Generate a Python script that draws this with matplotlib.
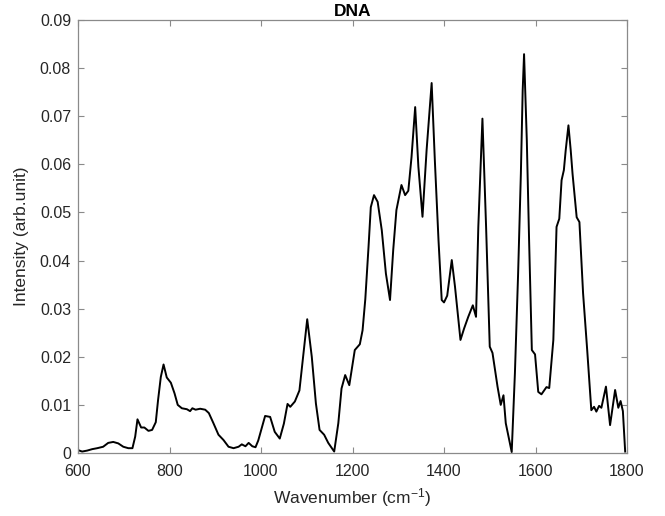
import numpy as np
import matplotlib.pyplot as plt

plt.rcParams['font.family'] = ['Liberation Sans', 'DejaVu Sans']
plt.rcParams['mathtext.default'] = 'regular'

# Raman spectrum of DNA
wavenumber = [600, 609, 620, 631, 642, 655, 666, 677, 688, 699, 710, 719, 725, 730,
              738, 745, 754, 762, 770, 775, 781, 787, 794, 803, 811, 818, 827, 838,
              845, 850, 857, 867, 878, 886, 896, 907, 918, 929, 940, 951, 958, 966,
              973, 981, 988, 994, 1001, 1009, 1020, 1030, 1041, 1050, 1058, 1064,
              1074, 1084, 1092, 1101, 1111, 1120, 1128, 1138, 1147, 1160, 1169,
              1176, 1184, 1193, 1205, 1216, 1222, 1228, 1235, 1240, 1247, 1255,
              1264, 1273, 1282, 1289, 1296, 1307, 1315, 1322, 1329, 1337, 1344,
              1353, 1362, 1373, 1380, 1388, 1395, 1400, 1407, 1417, 1424, 1436,
              1444, 1453, 1463, 1470, 1475, 1484, 1492, 1500, 1506, 1517, 1524,
              1530, 1535, 1548, 1555, 1562, 1568, 1572, 1575, 1581, 1586, 1592,
              1599, 1606, 1613, 1624, 1630, 1639, 1646, 1652, 1657, 1662, 1666,
              1672, 1677, 1681, 1690, 1696, 1704, 1713, 1722, 1728, 1733, 1739,
              1744, 1754, 1763, 1774, 1781, 1786, 1791, 1796]
intensity = [0.0006, 0.0003, 0.0005, 0.0008, 0.0010, 0.0013, 0.0021, 0.0023, 0.0020,
             0.0013, 0.0010, 0.0010, 0.0034, 0.0070, 0.0053, 0.0053, 0.0046, 0.0048,
             0.0064, 0.0110, 0.0158, 0.0184, 0.0157, 0.0146, 0.0124, 0.0100, 0.0093,
             0.0091, 0.0087, 0.0093, 0.0090, 0.0092, 0.0090, 0.0083, 0.0062, 0.0038,
             0.0027, 0.0013, 0.0010, 0.0013, 0.0018, 0.0014, 0.0021, 0.0014, 0.0012,
             0.0026, 0.0050, 0.0077, 0.0075, 0.0044, 0.0030, 0.0061, 0.0102, 0.0096,
             0.0107, 0.0130, 0.0200, 0.0278, 0.0200, 0.0103, 0.0048, 0.0038, 0.0021,
             0.0003, 0.0062, 0.0134, 0.0162, 0.0141, 0.0214, 0.0226, 0.0255, 0.0320,
             0.0428, 0.0511, 0.0536, 0.0522, 0.0463, 0.0373, 0.0318, 0.0422, 0.0505,
             0.0557, 0.0536, 0.0545, 0.0615, 0.0719, 0.0595, 0.0491, 0.0630, 0.0769,
             0.0608, 0.0442, 0.0318, 0.0313, 0.0327, 0.0401, 0.0346, 0.0235, 0.0259,
             0.0283, 0.0307, 0.0283, 0.0470, 0.0695, 0.0470, 0.0221, 0.0208, 0.0138,
             0.0100, 0.0120, 0.0062, 0.0002, 0.0166, 0.0373, 0.0580, 0.0754, 0.0829,
             0.0650, 0.0442, 0.0214, 0.0205, 0.0127, 0.0122, 0.0137, 0.0135, 0.0235,
             0.0470, 0.0487, 0.0567, 0.0588, 0.0629, 0.0681, 0.0629, 0.0580, 0.0490,
             0.0480, 0.0332, 0.0214, 0.0089, 0.0096, 0.0086, 0.0098, 0.0094, 0.0138,
             0.0058, 0.0131, 0.0094, 0.0108, 0.0087, 0.0003]

x_ticks = [600, 800, 1000, 1200, 1400, 1600, 1800]
y_ticks = [0, 0.01, 0.02, 0.03, 0.04, 0.05, 0.06, 0.07, 0.08, 0.09]
y_tick_labels = ['0', '0.01', '0.02', '0.03', '0.04', '0.05', '0.06', '0.07', '0.08', '0.09']

fig = plt.figure(figsize=(6.65, 5.16), dpi=100)
ax = fig.add_axes([78 / 665, 1 - 453 / 516, 549 / 665, 433 / 516])

ax.plot(wavenumber, intensity, color='black', lw=1.4)

ax.set_xlim(600, 1800)
ax.set_ylim(0, 0.09)
ax.set_xticks(x_ticks)
ax.set_yticks(y_ticks)
ax.set_yticklabels(y_tick_labels)

for s in ax.spines.values():
    s.set_color('#8a8a8a')
    s.set_linewidth(0.9)
ax.tick_params(direction='in', top=True, right=True, length=4.5, width=0.8,
               color='#8a8a8a', labelsize=11.5, labelcolor='#262626')
ax.tick_params(axis='x', pad=8)
ax.tick_params(axis='y', pad=5)

ax.set_xlabel('Wavenumber (cm$^{-1}$)', fontsize=12.5, color='#262626', labelpad=5)
ax.set_ylabel('Intensity (arb.unit)', fontsize=12.5, color='#262626', labelpad=8)
ax.set_title('DNA', fontsize=12.5, fontweight='bold', pad=3)

fig.savefig('out.png', dpi=100)
